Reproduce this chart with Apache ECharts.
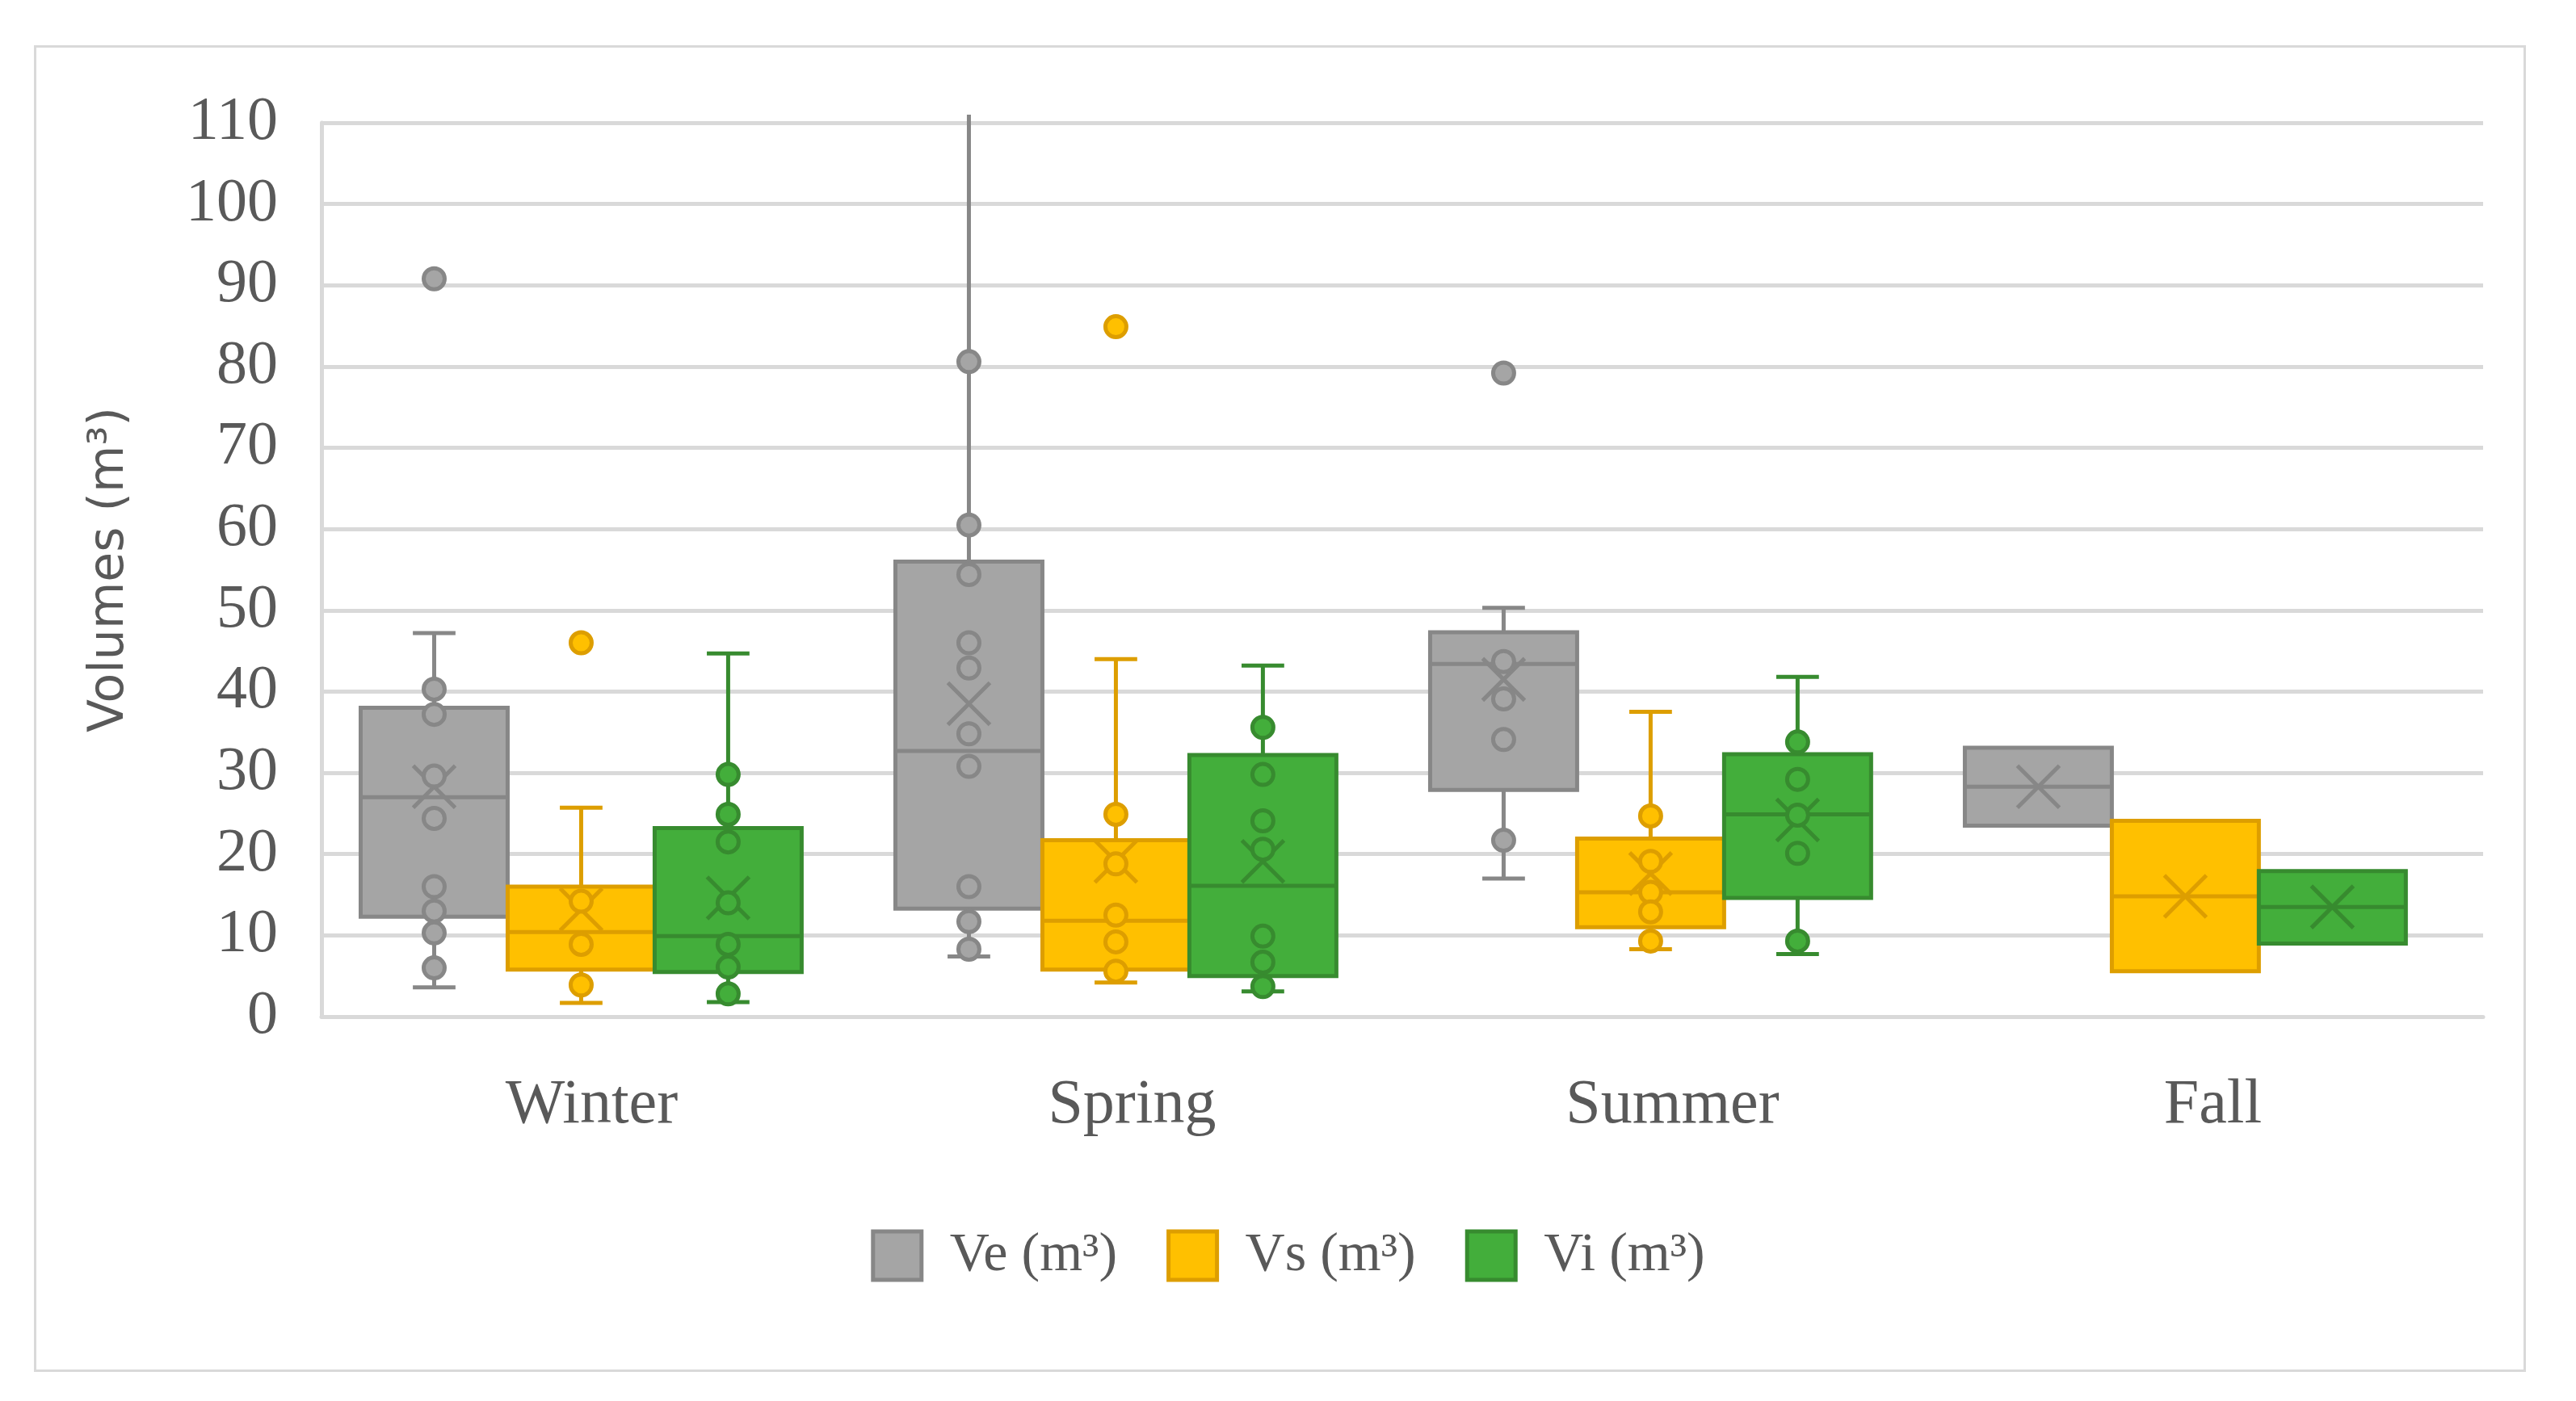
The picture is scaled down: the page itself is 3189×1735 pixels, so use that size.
<!DOCTYPE html>
<html>
<head>
<meta charset="utf-8">
<script src="https://cdn.jsdelivr.net/npm/echarts@6/dist/echarts.min.js"></script>
<style>
html,body{margin:0;padding:0;background:#fff;}
#chart{width:3189px;height:1735px;}
</style>
</head>
<body>
<div id="chart"></div>
<script>
// ---------- DATA ----------
const categories = ['Winter', 'Spring', 'Summer', 'Fall'];
const yTicks = { min: 0, max: 110, interval: 10 };

// box stats per category: [min whisker, Q1, median, Q3, max whisker]
const veBox = [
  [3.6, 12.3, 27.0, 38.0, 47.2],
  [7.4, 13.3, 32.7, 56.0, 111.0],
  [17.0, 27.9, 43.4, 47.3, 50.3],
  [23.5, 23.5, 28.3, 33.1, 33.1]
];
const vsBox = [
  [1.7, 5.8, 10.4, 16.0, 25.7],
  [4.2, 5.8, 11.8, 21.7, 44.0],
  [8.3, 11.0, 15.3, 21.9, 37.5],
  [5.6, 5.6, 14.8, 24.1, 24.1]
];
const viBox = [
  [1.8, 5.5, 9.9, 23.2, 44.7],
  [3.1, 5.0, 16.1, 32.2, 43.2],
  [7.7, 14.6, 24.9, 32.3, 41.8],
  [9.0, 9.0, 13.5, 17.9, 17.9]
];
// means (X markers)
const veMean = [28.3, 38.5, 41.5, 28.3];
const vsMean = [13.2, 19.1, 17.6, 14.8];
const viMean = [14.6, 19.1, 24.2, 13.5];

// inner points per category
const vePoints = [
  [40.3, 37.2, 29.6, 24.4, 16.0, 13.0, 10.3, 6.0],
  [80.6, 60.5, 54.4, 46.0, 42.9, 34.8, 30.8, 16.0, 11.7, 8.3],
  [43.7, 39.1, 34.1, 21.7],
  []
];
const vsPoints = [
  [14.2, 8.9, 3.9],
  [24.9, 18.8, 12.5, 9.2, 5.6],
  [24.7, 19.1, 15.3, 12.9, 9.3],
  []
];
const viPoints = [
  [29.8, 24.9, 21.5, 14.0, 8.9, 6.1, 2.8],
  [35.6, 29.8, 24.1, 20.6, 9.9, 6.7, 3.7],
  [33.8, 29.2, 24.8, 20.1, 9.3],
  []
];
// outliers per category
const veOutliers = [[90.8], [], [79.2], []];
const vsOutliers = [[46.0], [84.9], [], []];
const viOutliers = [[], [], [], []];

const seriesNames = ['Ve (m³)', 'Vs (m³)', 'Vi (m³)'];

// ---------- STYLE ----------
const fills = ['#A5A5A5', '#FFC000', '#43AE3B'];
const strokes = ['#878787', '#DD9E00', '#378B2F'];
const SERIF = '"Liberation Serif", "DejaVu Serif", serif';
const TXT = '#595959';
const GRID = '#D9D9D9';
const BOX_FRAC = 0.272;
const CAP_FRAC = 0.29;
const LW = 5;

function groupCenter(api, cat) {
  const band = api.size([1, 0])[0];
  const c = api.coord([cat, 0])[0];
  return c - band * (0.0195 + 0.0105 * cat);
}

function makeBoxRender(k) {
  return function (params, api) {
    const cat = api.value(0);
    const lo = api.value(1), q1 = api.value(2), med = api.value(3),
          q3 = api.value(4), hi = api.value(5), mean = api.value(6);
    const band = api.size([1, 0])[0];
    const boxW = band * BOX_FRAC;
    const capW = boxW * CAP_FRAC;
    const cx = groupCenter(api, cat) + (k - 1) * boxW;
    const Y = v => api.coord([cat, v])[1];
    const ls = { stroke: strokes[k], lineWidth: LW, fill: null };
    const ch = [];
    // whiskers
    if (hi > q3) ch.push({ type: 'line', shape: { x1: cx, y1: Y(q3), x2: cx, y2: Y(hi) }, style: ls });
    if (lo < q1) ch.push({ type: 'line', shape: { x1: cx, y1: Y(q1), x2: cx, y2: Y(lo) }, style: ls });
    if (hi > q3 && hi <= yTicks.max) ch.push({ type: 'line', shape: { x1: cx - capW / 2, y1: Y(hi), x2: cx + capW / 2, y2: Y(hi) }, style: ls });
    if (lo < q1) ch.push({ type: 'line', shape: { x1: cx - capW / 2, y1: Y(lo), x2: cx + capW / 2, y2: Y(lo) }, style: ls });
    // box
    ch.push({ type: 'rect', shape: { x: cx - boxW / 2, y: Y(q3), width: boxW, height: Y(q1) - Y(q3) },
      style: { fill: fills[k], stroke: strokes[k], lineWidth: LW } });
    // median
    ch.push({ type: 'line', shape: { x1: cx - boxW / 2, y1: Y(med), x2: cx + boxW / 2, y2: Y(med) }, style: ls });
    // mean X
    const h = 26, ym = Y(mean);
    ch.push({ type: 'line', shape: { x1: cx - h, y1: ym - h, x2: cx + h, y2: ym + h }, style: ls, z2: 10 });
    ch.push({ type: 'line', shape: { x1: cx - h, y1: ym + h, x2: cx + h, y2: ym - h }, style: ls, z2: 10 });
    return { type: 'group', children: ch };
  };
}

function makePointRender(k) {
  return function (params, api) {
    const cat = api.value(0);
    const band = api.size([1, 0])[0];
    const boxW = band * BOX_FRAC;
    const cx = groupCenter(api, cat) + (k - 1) * boxW;
    const y = api.coord([cat, api.value(1)])[1];
    return { type: 'circle', shape: { cx: cx, cy: y, r: 13 },
      style: { fill: fills[k], stroke: strokes[k], lineWidth: 5 } };
  };
}

const boxSets = [veBox, vsBox, viBox];
const meanSets = [veMean, vsMean, viMean];
const pointSets = [vePoints, vsPoints, viPoints];
const outlierSets = [veOutliers, vsOutliers, viOutliers];

const series = [];
for (let k = 0; k < 3; k++) {
  series.push({
    name: seriesNames[k], type: 'custom', clip: false,
    renderItem: makeBoxRender(k),
    encode: { x: 0, y: [1, 2, 3, 4, 5, 6] },
    itemStyle: { color: fills[k], borderColor: strokes[k] },
    data: boxSets[k].map((b, i) => [i, b[0], b[1], b[2], b[3], b[4], meanSets[k][i]]),
    z: 2
  });
}
for (let k = 0; k < 3; k++) {
  const pts = [];
  pointSets[k].forEach((arr, i) => arr.forEach(v => pts.push([i, v])));
  outlierSets[k].forEach((arr, i) => arr.forEach(v => pts.push([i, v])));
  series.push({
    name: seriesNames[k], type: 'custom', clip: false,
    renderItem: makePointRender(k),
    encode: { x: 0, y: 1 },
    itemStyle: { color: fills[k], borderColor: strokes[k] },
    data: pts,
    z: 3
  });
}

const chart = echarts.init(document.getElementById('chart'));
chart.setOption({
  animation: false,
  backgroundColor: '#ffffff',
  graphic: [{
    type: 'rect', left: 41, top: 55,
    shape: { width: 3082, height: 1640 },
    style: { fill: null, stroke: GRID, lineWidth: 3 }, silent: true
  }],
  grid: { left: 398, right: 115, top: 152, bottom: 476 },
  legend: {
    left: 'center', top: 1516,
    itemWidth: 60, itemHeight: 60, itemGap: 61,
    icon: 'rect',
    data: seriesNames.map((n, k) => ({
      name: n, icon: 'rect',
      itemStyle: { color: fills[k], borderColor: strokes[k], borderWidth: 5 }
    })),
    textStyle: { fontFamily: SERIF, fontSize: 68, color: TXT, padding: [0, 0, 0, 30] }
  },
  xAxis: {
    type: 'category', data: categories,
    axisLine: { show: true, lineStyle: { color: GRID, width: 5 } },
    axisTick: { show: false },
    axisLabel: { fontFamily: SERIF, fontSize: 78, color: TXT, margin: 72 },
    splitLine: { show: false }
  },
  yAxis: {
    type: 'value', min: yTicks.min, max: yTicks.max, interval: yTicks.interval,
    name: 'Volumes (m³)', nameLocation: 'middle', nameGap: 232, nameRotate: 90,
    nameTextStyle: { fontFamily: '"DejaVu Sans", sans-serif', fontSize: 60, color: TXT },
    axisLine: { show: true, lineStyle: { color: GRID, width: 5 } },
    axisTick: { show: false },
    axisLabel: { fontFamily: SERIF, fontSize: 76, color: TXT, margin: 54 },
    splitLine: { show: true, lineStyle: { color: GRID, width: 5 } }
  },
  series: series
});
</script>
</body>
</html>
